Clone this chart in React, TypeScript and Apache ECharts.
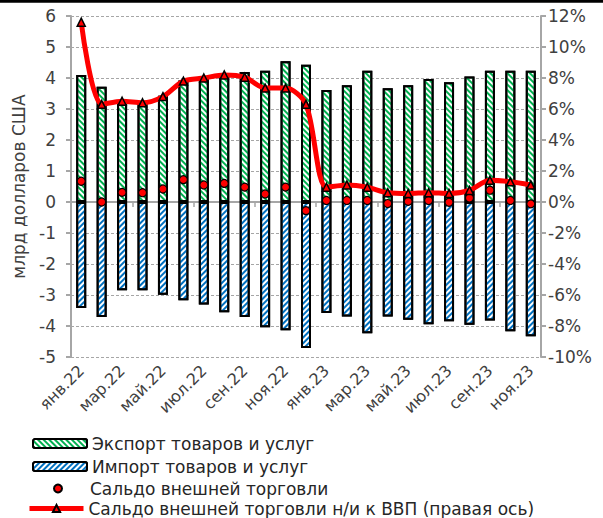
import React, { useEffect, useRef } from "react";
import * as echarts from "echarts";

const categories = [
  "янв.22", "фев.22", "мар.22", "апр.22", "май.22", "июн.22", "июл.22", "авг.22", "сен.22", "окт.22", "ноя.22", "дек.22",
  "янв.23", "фев.23", "мар.23", "апр.23", "май.23", "июн.23", "июл.23", "авг.23", "сен.23", "окт.23", "ноя.23",
];
const exportVals = [4.1, 3.72, 3.25, 3.19, 3.43, 3.92, 4.0, 4.1, 4.19, 4.23, 4.54, 4.43, 3.61, 3.77, 4.23, 3.67, 3.77, 3.97, 3.86, 4.05, 4.23, 4.23, 4.23];
const importVals = [-3.42, -3.71, -2.85, -2.85, -2.99, -3.17, -3.31, -3.56, -3.71, -4.04, -4.14, -4.71, -3.58, -3.69, -4.23, -3.69, -3.8, -3.94, -3.85, -3.96, -3.82, -4.17, -4.33];
const balanceVals = [0.67, 0.0, 0.31, 0.3, 0.42, 0.72, 0.55, 0.6, 0.48, 0.26, 0.48, -0.28, 0.05, 0.05, 0.05, -0.05, 0.02, 0.05, -0.01, 0.13, 0.38, 0.05, -0.06];
const ratioVals = [11.6, 6.3, 6.5, 6.4, 6.8, 7.8, 8.0, 8.2, 8.05, 7.35, 7.35, 6.3, 0.95, 1.1, 0.95, 0.6, 0.55, 0.6, 0.55, 0.75, 1.4, 1.3, 1.1];

const names = {
  exp: "Экспорт товаров и услуг",
  imp: "Импорт товаров и услуг",
  bal: "Сальдо внешней торговли",
  ratio: "Сальдо внешней торговли н/и к ВВП (правая ось)",
};

const FONT = "DejaVu Sans";
const GREY = "#A6A6A6";
const LABEL = "#404040";

export default function App() {
  const ref = useRef<HTMLDivElement>(null);
  useEffect(() => {
    if (!ref.current) return;
    const chart = echarts.init(ref.current, undefined, { renderer: "svg" });
    const expDecal = {
      symbol: "rect",
      symbolSize: 1,
      color: "#00B050",
      dashArrayX: [1, 0],
      dashArrayY: [2, 1.6],
      rotation: Math.PI / 4,
    };
    const impDecal = {
      symbol: "rect",
      symbolSize: 1,
      color: "#0070C0",
      dashArrayX: [1, 0],
      dashArrayY: [2, 1.6],
      rotation: -Math.PI / 4,
    };
    const legendText = { fontFamily: FONT, fontSize: 17, color: "#262626", lineHeight: 17 };
    chart.setOption({
      animation: false,
      textStyle: { fontFamily: FONT },
      grid: { left: 71, right: 62, top: 16, bottom: 161 },
      legend: [
        {
          orient: "vertical",
          left: 27,
          top: 430,
          padding: 5,
          itemWidth: 54,
          itemHeight: 9,
          itemGap: 6,
          data: [names.exp, names.imp],
          textStyle: legendText,
          selectedMode: false,
        },
        {
          orient: "vertical",
          left: 48,
          top: 475,
          padding: 5,
          itemWidth: 54,
          itemHeight: 8,
          data: [names.bal],
          textStyle: legendText,
          selectedMode: false,
        },
        {
          orient: "vertical",
          left: 22,
          top: 495,
          padding: 5,
          itemWidth: 54,
          itemHeight: 9,
          data: [names.ratio],
          textStyle: legendText,
          lineStyle: { width: 5 },
          selectedMode: false,
        },
      ],
      xAxis: [
        {
          type: "category",
          data: categories,
          position: "bottom",
          axisLine: { show: true, onZero: true, onZeroAxisIndex: 0, lineStyle: { color: GREY, width: 2 } },
          axisTick: { show: true, inside: false, length: 5, lineStyle: { color: GREY, width: 1.5 } },
          axisLabel: { show: false },
          splitLine: { show: false },
        },
        {
          type: "category",
          data: categories,
          position: "bottom",
          axisLine: { show: false, onZero: false },
          axisTick: { show: false },
          axisLabel: {
            interval: 1,
            rotate: 45,
            fontFamily: FONT,
            fontSize: 16,
            color: LABEL,
            margin: 11,
          },
          splitLine: {
            show: true,
            interval: (i: number) => i === 12,
            lineStyle: { color: GREY, type: [3, 2], width: 1 },
          },
        },
      ],
      yAxis: [
        {
          type: "value",
          min: -5,
          max: 6,
          interval: 1,
          name: "млрд долларов США",
          nameLocation: "middle",
          nameGap: 44,
          nameTextStyle: { fontFamily: FONT, fontSize: 17, color: LABEL },
          axisLine: { show: true, lineStyle: { color: GREY, width: 2 } },
          axisTick: { show: true, length: 5, lineStyle: { color: GREY, width: 2 } },
          axisLabel: { fontFamily: FONT, fontSize: 17, color: LABEL, margin: 15 },
          splitLine: { show: true, lineStyle: { color: GREY, type: [3, 2], width: 1 } },
        },
        {
          type: "value",
          min: -10,
          max: 12,
          interval: 2,
          position: "right",
          axisLine: { show: true, lineStyle: { color: GREY, width: 2 } },
          axisTick: { show: true, length: 5, lineStyle: { color: GREY, width: 2 } },
          axisLabel: { fontFamily: FONT, fontSize: 17, color: LABEL, margin: 7, formatter: "{value}%" },
          splitLine: { show: false },
        },
      ],
      series: [
        {
          name: names.exp,
          type: "bar",
          data: exportVals,
          barWidth: 10,
          barGap: "-100%",
          itemStyle: { color: "#ffffff", borderColor: "#000000", borderWidth: 2, decal: expDecal },
          z: 2,
        },
        {
          name: names.imp,
          type: "bar",
          data: importVals,
          barWidth: 10,
          barGap: "-100%",
          itemStyle: { color: "#ffffff", borderColor: "#000000", borderWidth: 2, decal: impDecal },
          z: 2,
        },
        {
          name: names.bal,
          type: "scatter",
          data: balanceVals,
          symbol: "circle",
          symbolSize: 8,
          itemStyle: { color: "#FF0000", borderColor: "#000000", borderWidth: 1.2, opacity: 1 },
          z: 3,
        },
        {
          name: names.ratio,
          type: "line",
          yAxisIndex: 1,
          data: ratioVals,
          smooth: 0.3,
          symbol: "triangle",
          symbolSize: 8,
          showAllSymbol: true,
          lineStyle: { color: "#FF0000", width: 5 },
          itemStyle: { color: "#FF0000", borderColor: "#000000", borderWidth: 1.5 },
          z: 4,
        },
      ],
      graphic: [
        { type: "rect", shape: { x: 0, y: 0, width: 603, height: 2.7 }, style: { fill: "#000000" } },
      ],
    });
    return () => chart.dispose();
  }, []);
  return (
    <div
      ref={ref}
      style={{ position: "absolute", left: 0, top: 0, width: 603, height: 518, background: "#ffffff" }}
    />
  );
}
